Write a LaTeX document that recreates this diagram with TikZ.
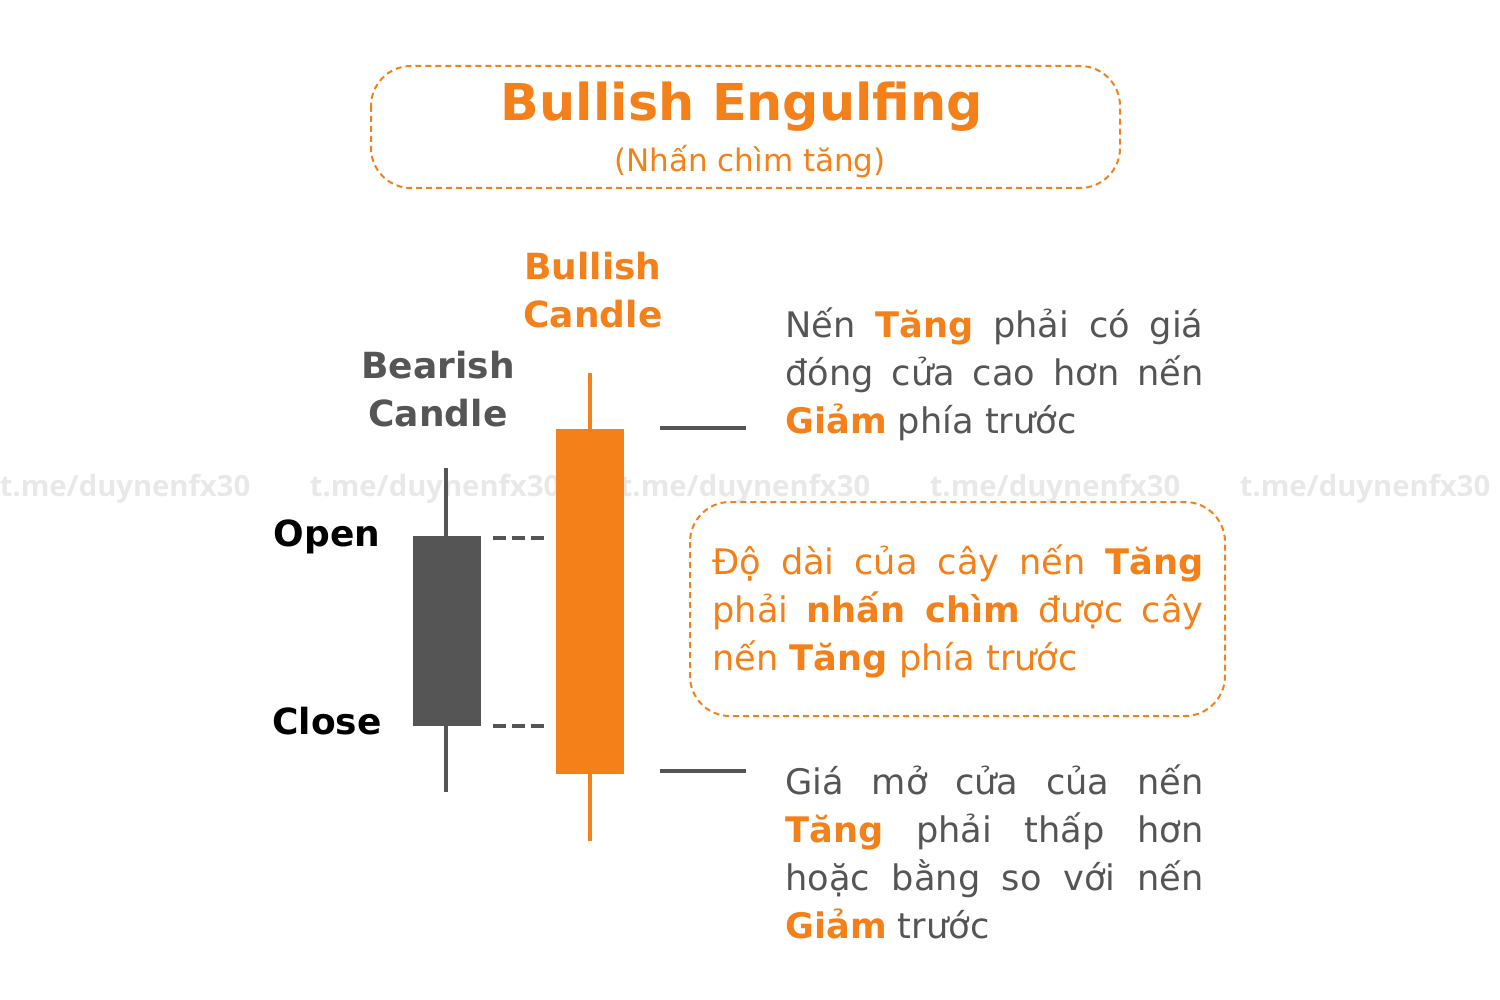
\documentclass[tikz,border=0pt]{standalone}
\usepackage{fontspec}
\setmainfont{DejaVu Sans}
\newfontfamily\wmfont{Open Sans}
\definecolor{org}{HTML}{F48019}
\definecolor{gry}{HTML}{555555}
\begin{document}
\begin{tikzpicture}[x=0.5pt,y=-0.5pt,
  dbox/.style={draw=org,line width=1pt,dash pattern=on 3pt off 2pt,rounded corners=20pt},
  para/.style={anchor=north west,inner sep=0pt,align=justify,font=\fontsize{17.6}{24}\selectfont},
  lbl/.style={font=\fontsize{18}{24}\selectfont\bfseries,align=center},
  wm/.style={font=\wmfont\fontsize{14.6}{14}\selectfont\bfseries,text=black!9}]
\useasboundingbox (0,0) rectangle (1500,1000);
% watermarks
\foreach \i/\x in {1/125,2/435,3/745,4/1055,5/1365}{\node[wm] (wm\i) at (\x,489) {t.me/duynenfx30};}
% title
\draw[dbox] (371,66) rectangle (1120,188);
\node[text=org,font=\fontsize{25.4}{25}\selectfont\bfseries] (title) at (742,107) {Bullish Engulfing};
\node[text=org,font=\fontsize{15.5}{15}\selectfont] (sub) at (750,162) {(Nhấn chìm tăng)};
% candles
\draw[gry,line width=2pt] (446,468) -- (446,792);
\fill[gry] (413,536) rectangle (481,726);
\draw[org,line width=2pt] (590,373) -- (590,841);
\fill[org] (556,429) rectangle (624,774);
\draw[gry,line width=2pt,dash pattern=on 6.5pt off 3pt] (493,538) -- (547,538);
\draw[gry,line width=2pt,dash pattern=on 6.5pt off 3pt] (493,726) -- (547,726);
\draw[gry,line width=2pt] (660,428) -- (746,428);
\draw[gry,line width=2pt] (660,771) -- (746,771);
% labels
\node[lbl] (open) at (327,537) {Open};
\node[lbl] (close) at (327,721) {Close};
\node[lbl,text=gry] (bear) at (438,389) {Bearish\\Candle};
\node[lbl,text=org] (bull) at (593,290) {Bullish\\Candle};
% texts
\node[para,text width=209pt,text=gry] (t1) at (785,307) {Nến \textcolor{org}{\bfseries Tăng} phải có giá\linebreak đóng cửa cao hơn nến\linebreak \textcolor{org}{\bfseries Giảm} phía trước};
\draw[dbox] (690,502) rectangle (1225,716);
\node[para,text width=245.5pt,text=org] (t2) at (712,544) {Độ dài của cây nến \textbf{Tăng}\linebreak phải \textbf{nhấn chìm} được cây\linebreak nến \textbf{Tăng} phía trước};
\node[para,text width=209pt,text=gry] (t3) at (785,764) {Giá mở cửa của nến\linebreak \textcolor{org}{\bfseries Tăng} phải thấp hơn\linebreak hoặc bằng so với nến\linebreak \textcolor{org}{\bfseries Giảm} trước};
\end{tikzpicture}
\end{document}
